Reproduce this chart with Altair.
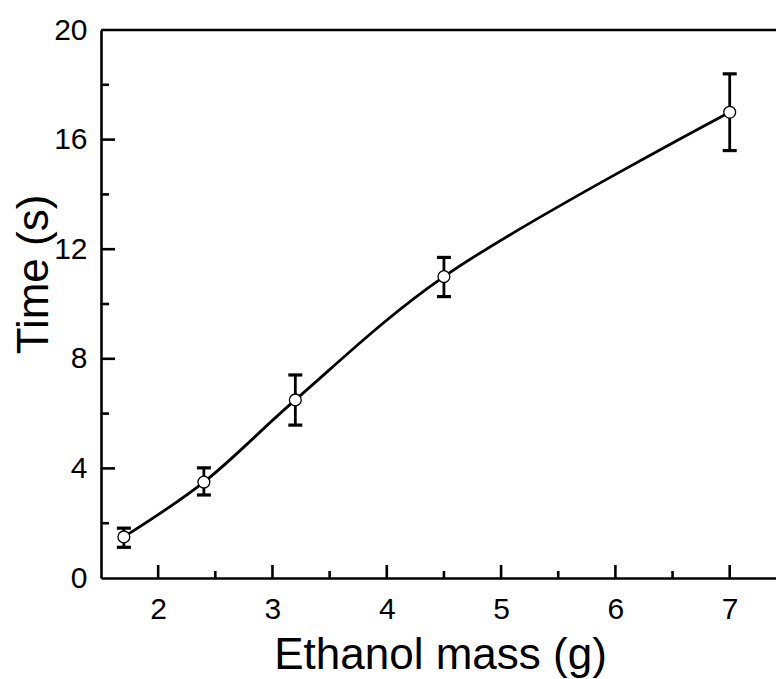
import altair as alt
import pandas as pd

# Data
mass = [1.7, 2.4, 3.2, 4.5, 7.0]
time = [1.5, 3.5, 6.5, 11.0, 17.0]
err_lo = [1.12, 3.03, 5.58, 10.27, 15.6]
err_hi = [1.82, 4.02, 7.41, 11.7, 18.4]

x_major = [2, 3, 4, 5, 6, 7]
x_minor = [2.5, 3.5, 4.5, 5.5, 6.5]
y_major = [4, 8, 12, 16]
y_minor = [2, 6, 10, 14, 18]
y_labels = [0, 4, 8, 12, 16, 20]

X_DOMAIN = [1.5, 7.405]
Y_DOMAIN = [0, 20]
W, H = 675, 548
FONT = "Liberation Sans"
LW = 2.6

df = pd.DataFrame({"m": mass, "t": time, "lo": err_lo, "hi": err_hi})

xs = alt.Scale(domain=X_DOMAIN, nice=False, zero=False)
ys = alt.Scale(domain=Y_DOMAIN, nice=False, zero=False)

x_axis = alt.Axis(
    title="Ethanol mass (g)", values=x_major, format="d", ticks=False,
    grid=False, domainColor="black", domainWidth=LW,
    labelFont=FONT, labelFontSize=30, labelColor="black", labelPadding=16,
    titleFont=FONT, titleFontSize=44, titleFontWeight="normal", titleColor="black",
    titleX=339, titleY=90, titleBaseline="alphabetic", titleAlign="center",
)
y_axis = alt.Axis(
    title="Time (s)", values=y_labels, format="d", ticks=False,
    grid=False, domainColor="black", domainWidth=LW,
    labelFont=FONT, labelFontSize=30, labelColor="black", labelPadding=14,
    titleFont=FONT, titleFontSize=44, titleFontWeight="normal", titleColor="black",
    titleX=-54, titleY=244, titleAngle=270, titleBaseline="alphabetic",
    titleAlign="center",
)


def X(f):
    return alt.X(f, scale=xs, axis=x_axis, title="Ethanol mass (g)")


def Y(f):
    return alt.Y(f, scale=ys, axis=y_axis, title="Time (s)")


base = alt.Chart(df)

line = base.mark_line(interpolate="catmull-rom", color="black", strokeWidth=2.8).encode(
    x=X("m:Q"), y=Y("t:Q")
)

bars = base.mark_rule(color="black", strokeWidth=2.8).encode(
    x=X("m:Q"), y=Y("lo:Q"), y2="hi:Q"
)

cap_lo = base.mark_tick(color="black", orient="horizontal", size=14, thickness=3.2, opacity=1).encode(
    x=X("m:Q"), y=Y("lo:Q")
)
cap_hi = base.mark_tick(color="black", orient="horizontal", size=14, thickness=3.2, opacity=1).encode(
    x=X("m:Q"), y=Y("hi:Q")
)

points = base.mark_point(
    shape="circle", filled=True, fill="white", stroke="black",
    strokeWidth=1.3, size=140, opacity=1,
).encode(x=X("m:Q"), y=Y("t:Q"))

# Inward tick marks
xmaj = alt.Chart(pd.DataFrame({"v": x_major})).mark_rule(color="black", strokeWidth=LW).encode(
    x=X("v:Q"), y=alt.value(H), y2=alt.value(H - 13)
)
xmin = alt.Chart(pd.DataFrame({"v": x_minor})).mark_rule(color="black", strokeWidth=LW).encode(
    x=X("v:Q"), y=alt.value(H), y2=alt.value(H - 7)
)
ymaj = alt.Chart(pd.DataFrame({"v": y_major})).mark_rule(color="black", strokeWidth=LW).encode(
    y=Y("v:Q"), x=alt.value(0), x2=alt.value(14)
)
ymin = alt.Chart(pd.DataFrame({"v": y_minor})).mark_rule(color="black", strokeWidth=LW).encode(
    y=Y("v:Q"), x=alt.value(0), x2=alt.value(8)
)
top = alt.Chart(pd.DataFrame({"v": [Y_DOMAIN[1]]})).mark_rule(color="black", strokeWidth=LW).encode(
    y=Y("v:Q"), x=alt.value(0), x2=alt.value(W)
)

chart = alt.layer(
    top, xmaj, xmin, ymaj, ymin, line, bars, cap_lo, cap_hi, points
).properties(
    width=W, height=H,
    autosize=alt.AutoSizeParams(type="none"),
    padding={"left": 101, "top": 30, "right": 0, "bottom": 101},
    background="white",
).configure_view(stroke="transparent")

chart.save("out.html", embed_options={"renderer": "svg", "actions": False})
